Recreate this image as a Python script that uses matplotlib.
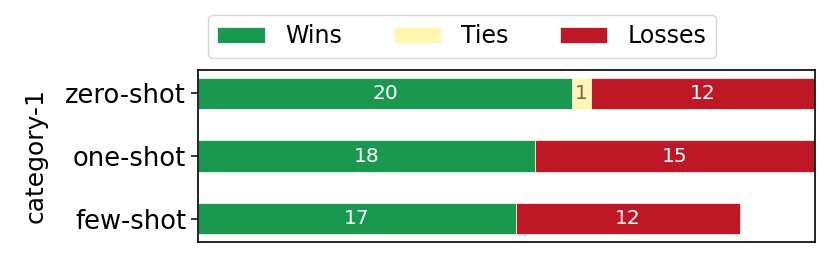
import matplotlib.pyplot as plt
import numpy as np

# datos
categories = ['zero-shot', 'one-shot', 'few-shot']
wins = [20, 18, 17]
ties = [1, 0, 0]
losses = [12, 15, 12]

colors = {'Wins': '#1a9850', 'Ties': '#fff6b0', 'Losses': '#be1827'}

fig = plt.figure(figsize=(8.31, 2.58), dpi=100)
ax = fig.add_axes([198 / 831, 1 - 242 / 258, (815 - 198) / 831, (242 - 70) / 258])

y = np.arange(len(categories))
left = np.zeros(len(categories))
for name, vals in [('Wins', wins), ('Ties', ties), ('Losses', losses)]:
    vals = np.array(vals)
    bars = ax.barh(y, vals, left=left, height=0.5, color=colors[name],
                   edgecolor='white', linewidth=0.5, label=name)
    txt_color = 'dimgray' if name == 'Ties' else 'white'
    labels = [str(v) if v > 0 else '' for v in vals]
    ax.bar_label(bars, labels=labels, label_type='center', color=txt_color, fontsize=14.5)
    left += vals

ax.set_yticks(y)
ax.set_yticklabels(categories, fontsize=18.5)
ax.tick_params(axis='y', length=5, width=1.1)
for s in ax.spines.values():
    s.set_linewidth(1.2)
ax.invert_yaxis()
ax.set_xlim(0, 33)
ax.set_xticks([])
ax.set_ylabel('category-1', fontsize=18, labelpad=13)

fig.legend(loc='upper left', bbox_to_anchor=(208 / 831, 1 - 15 / 258), ncol=3,
           borderaxespad=0, fontsize=17, handlelength=2.0, columnspacing=2.2,
           handletextpad=0.85)

fig.savefig('out.png', dpi=100)
